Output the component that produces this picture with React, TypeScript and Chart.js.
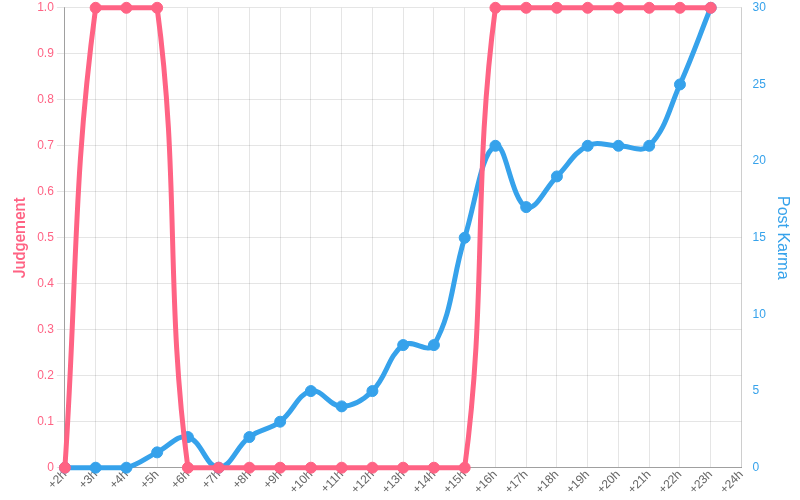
import React, { useEffect, useRef } from "react";
import { Chart, registerables } from "chart.js";

Chart.register(...registerables);

const labels = ["+2h","+3h","+4h","+5h","+6h","+7h","+8h","+9h","+10h","+11h","+12h","+13h","+14h","+15h","+16h","+17h","+18h","+19h","+20h","+21h","+22h","+23h","+24h"];
const judgement = [0,1,1,1,0,0,0,0,0,0,0,0,0,0,1,1,1,1,1,1,1,1];
const postKarma = [0,0,0,1,2,0,2,3,5,4,5,8,8,15,21,17,19,21,21,21,25,30];

const RED = "rgb(255, 99, 132)";
const BLUE = "rgb(54, 162, 235)";

export default function App() {
  const ref = useRef<HTMLCanvasElement>(null);
  useEffect(() => {
    if (!ref.current) return;
    const chart = new Chart(ref.current, {
      type: "line",
      data: {
        labels,
        datasets: [
          {
            label: "Judgement",
            data: judgement,
            borderColor: RED,
            backgroundColor: RED,
            borderWidth: 5,
            pointRadius: 5.5,
            pointBorderWidth: 1,
            tension: 0.4,
            yAxisID: "y",
            fill: false,
            clip: 7,
          },
          {
            label: "Post Karma",
            data: postKarma,
            borderColor: BLUE,
            backgroundColor: BLUE,
            borderWidth: 5,
            pointRadius: 5.5,
            pointBorderWidth: 1,
            tension: 0.4,
            yAxisID: "y1",
            fill: false,
            clip: 7,
          },
        ],
      },
      options: {
        responsive: false,
        animation: false,
        plugins: { legend: { display: false }, tooltip: { enabled: false } },
        layout: { padding: { top: 0, right: 4, left: 7, bottom: 3 } },
        scales: {
          x: {
            ticks: { color: "#666", font: { family: "Liberation Sans", size: 12 }, maxRotation: 45, minRotation: 45, padding: 0 },
            grid: { color: "rgba(0,0,0,0.1)", drawTicks: false },
            border: { color: "rgba(0,0,0,0.3)" },
          },
          y: {
            position: "left",
            min: 0,
            max: 1,
            ticks: { stepSize: 0.1, color: RED, font: { family: "Liberation Sans", size: 12, lineHeight: 0.8 }, callback: (v: any) => (v === 0 ? "0" : Number(v).toFixed(1)) },
            title: { display: true, text: "Judgement", color: RED, font: { family: "Roboto", size: 16, weight: "500" } },
            grid: { color: "rgba(0,0,0,0.1)" },
            border: { color: "rgba(0,0,0,0.3)" },
          },
          y1: {
            position: "right",
            min: 0,
            max: 30,
            ticks: { stepSize: 5, color: BLUE, font: { family: "Liberation Sans", size: 12, lineHeight: 0.8 } },
            title: { display: true, text: "Post Karma", color: BLUE, font: { family: "Liberation Sans", size: 16 } },
            grid: { drawOnChartArea: false, color: "rgba(0,0,0,0)" },
            border: { color: "rgba(0,0,0,0.1)" },
          },
        },
      },
    });
    return () => chart.destroy();
  }, []);
  return (
    <div style={{ position: "fixed", left: 0, top: 0, width: 800, height: 500, background: "#fff" }}>
      <canvas ref={ref} width={800} height={500} />
    </div>
  );
}
